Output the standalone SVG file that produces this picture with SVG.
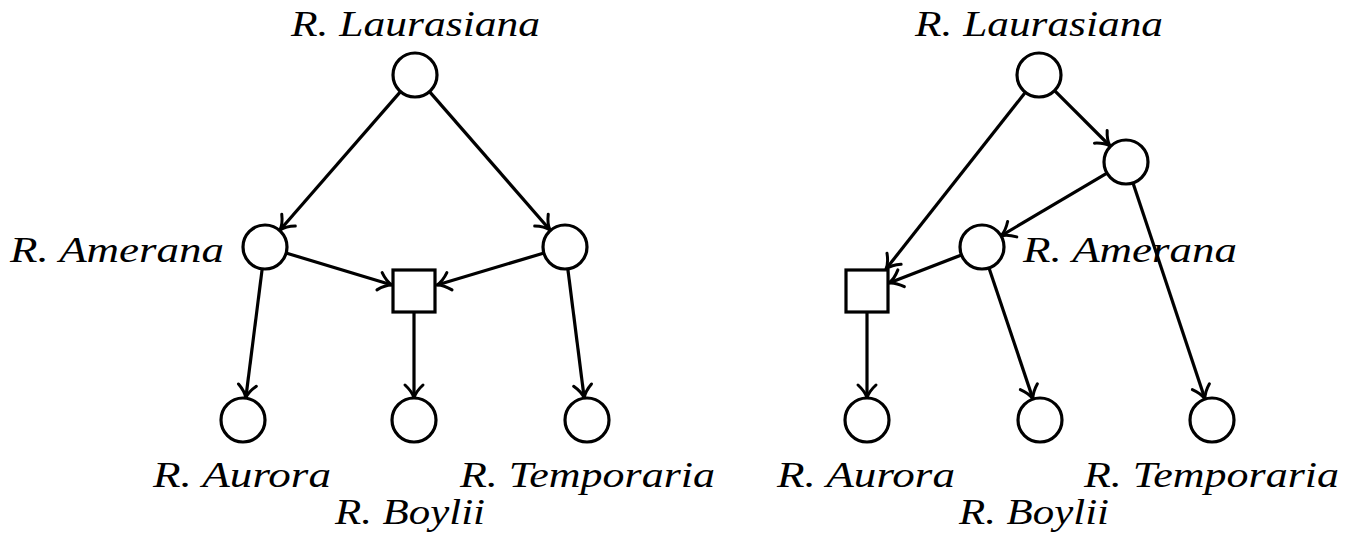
<svg xmlns="http://www.w3.org/2000/svg" width="1356" height="535" viewBox="0 0 1356 535">
<style>
.n{fill:#fff;stroke:#000;stroke-width:3.2}
.e{fill:none;stroke:#000;stroke-width:3.2;marker-end:url(#arr)}
.t{font-family:"Liberation Serif","Times New Roman",serif;font-style:italic;font-size:35px;fill:#000}
</style>
<defs>
<marker id="arr" markerUnits="userSpaceOnUse" markerWidth="30" markerHeight="30" viewBox="-15 -15 30 30" refX="0" refY="0" orient="auto" overflow="visible">
<path d="M-13,-9 C-8,-3.5 -3.5,-1 0,0 C-3.5,1 -8,3.5 -13,9" fill="none" stroke="#000" stroke-width="3" stroke-linecap="round"/>
</marker>
</defs>
<rect width="1356" height="535" fill="#fff"/>
<g id="connectors">
<line class="e" x1="400.5" y1="91.6" x2="280" y2="230"/>
<line class="e" x1="429.5" y1="91.6" x2="550" y2="230"/>
<line class="e" x1="286" y1="253" x2="392" y2="285"/>
<line class="e" x1="544" y1="253" x2="437" y2="285"/>
<line class="e" x1="262.2" y1="268.8" x2="245.8" y2="398"/>
<line class="e" x1="414" y1="312" x2="414" y2="398"/>
<line class="e" x1="567.8" y1="268.8" x2="584.2" y2="398"/>
<line class="e" x1="1054.6" y1="90.6" x2="1110" y2="146"/>
<line class="e" x1="1025.4" y1="92.3" x2="886" y2="269"/>
<line class="e" x1="1107" y1="173.2" x2="1001" y2="235.8"/>
<line class="e" x1="961.5" y1="254.9" x2="889" y2="283"/>
<line class="e" x1="867" y1="312" x2="867" y2="398"/>
<line class="e" x1="989" y1="267.9" x2="1033" y2="399"/>
<line class="e" x1="1133" y1="182.9" x2="1205" y2="399"/>
</g>
<g id="L-laurasiana"><circle class="n" cx="415" cy="75" r="22"/><text class="t" x="291" y="36" textLength="249" lengthAdjust="spacingAndGlyphs">R. Laurasiana</text></g>
<g id="L-amerana"><circle class="n" cx="265" cy="247" r="22"/><text class="t" x="10" y="262" textLength="214" lengthAdjust="spacingAndGlyphs">R. Amerana</text></g>
<g id="L-mid"><circle class="n" cx="565" cy="247" r="22"/></g>
<g id="L-hybrid"><rect class="n" x="393" y="270" width="42" height="42"/></g>
<g id="L-aurora"><circle class="n" cx="243" cy="420" r="22"/><text class="t" x="153" y="487" textLength="178" lengthAdjust="spacingAndGlyphs">R. Aurora</text></g>
<g id="L-boylii"><circle class="n" cx="414" cy="420" r="22"/><text class="t" x="335" y="524" textLength="150" lengthAdjust="spacingAndGlyphs">R. Boylii</text></g>
<g id="L-temporaria"><circle class="n" cx="587" cy="420" r="22"/><text class="t" x="460" y="487" textLength="255" lengthAdjust="spacingAndGlyphs">R. Temporaria</text></g>
<g id="R-laurasiana"><circle class="n" cx="1039" cy="75" r="22"/><text class="t" x="915" y="36" textLength="248" lengthAdjust="spacingAndGlyphs">R. Laurasiana</text></g>
<g id="R-mid"><circle class="n" cx="1126" cy="162" r="22"/></g>
<g id="R-amerana"><circle class="n" cx="982" cy="247" r="22"/><text class="t" x="1023" y="262" textLength="214" lengthAdjust="spacingAndGlyphs">R. Amerana</text></g>
<g id="R-hybrid"><rect class="n" x="846" y="270" width="42" height="42"/></g>
<g id="R-aurora"><circle class="n" cx="867" cy="420" r="22"/><text class="t" x="777" y="487" textLength="178" lengthAdjust="spacingAndGlyphs">R. Aurora</text></g>
<g id="R-boylii"><circle class="n" cx="1040" cy="420" r="22"/><text class="t" x="959" y="524" textLength="150" lengthAdjust="spacingAndGlyphs">R. Boylii</text></g>
<g id="R-temporaria"><circle class="n" cx="1212" cy="420" r="22"/><text class="t" x="1084" y="487" textLength="255" lengthAdjust="spacingAndGlyphs">R. Temporaria</text></g>
</svg>
